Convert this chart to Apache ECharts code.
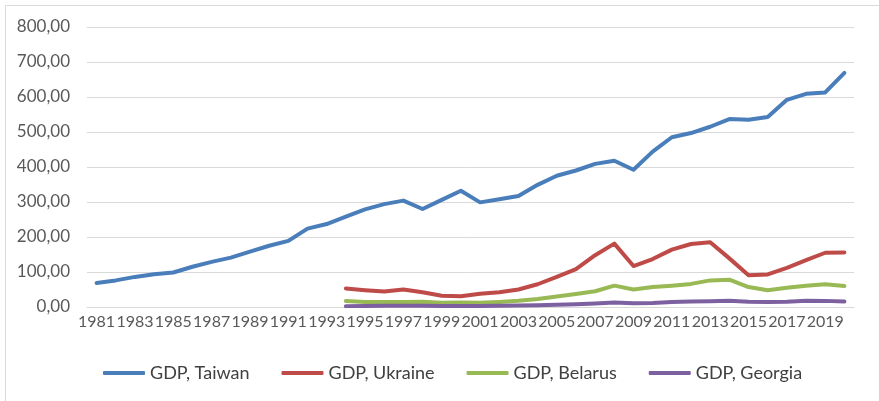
<!DOCTYPE html>
<html>
<head>
<meta charset="utf-8">
<script src="https://cdn.jsdelivr.net/npm/echarts@6/dist/echarts.min.js"></script>
<style>html,body{margin:0;padding:0;background:#fff;}#c{width:879px;height:401px;}</style>
</head>
<body>
<div id="c"></div>
<script>
const years = [];
for (let y = 1981; y <= 2020; y++) years.push(String(y));
const taiwan = [68.8, 76, 86, 93.7, 98.5, 115, 129, 141, 158, 175, 189, 224, 237, 258, 279, 294, 304, 280, 306, 332, 299, 308, 317, 349, 375, 390, 409, 418, 392, 444, 485, 497, 515, 537, 535, 543, 592, 609, 613, 669];
const ukraine = [null, null, null, null, null, null, null, null, null, null, null, null, null,
  53, 48, 44, 50, 42, 32, 31, 38, 42, 50, 65, 86, 108, 148, 181, 117, 137, 164, 180, 185, 139, 91, 93, 112, 134, 155, 156];
const belarus = [null, null, null, null, null, null, null, null, null, null, null, null, null,
  17, 14, 14.5, 14, 15, 12, 13, 12.4, 14.6, 17.8, 23, 30, 37, 45, 61, 50, 57, 61, 66, 76, 78, 57, 48, 55, 61, 65, 60];
const georgia = [null, null, null, null, null, null, null, null, null, null, null, null, null,
  2.5, 3, 3.4, 3.8, 3.6, 2.8, 3, 3.2, 3.4, 4, 5, 6.4, 7.8, 10.2, 12.8, 10.8, 11.6, 14.4, 15.8, 16.1, 17.6, 15, 14.4, 15.1, 17.6, 17.5, 16];
const seriesNames = ['GDP, Taiwan', 'GDP, Ukraine', 'GDP, Belarus', 'GDP, Georgia'];
const colors = ['#4A7EBB', '#BE4B48', '#98B954', '#7D60A0'];
const yTicks = { min: 0, max: 800, interval: 100 };

const chart = echarts.init(document.getElementById('c'), null, { renderer: 'canvas' });
const font = 'Lato, "Open Sans", sans-serif';
const mk = (name, data, color) => ({
  name, type: 'line', data, symbol: 'none', showSymbol: false,
  connectNulls: false,
  lineStyle: { width: 4, color, cap: 'round', join: 'round' },
  itemStyle: { color },
  emphasis: { disabled: true },
  animation: false
});
chart.setOption({
  animation: false,
  textStyle: { fontFamily: font },
  graphic: [{
    type: 'rect', shape: { x: 5.5, y: 5.5, width: 900, height: 500 },
    style: { fill: 'none', stroke: '#d9d9d9', lineWidth: 1 }, silent: true
  }],
  grid: { left: 87, right: 25, top: 27, bottom: 94 },
  legend: {
    data: seriesNames.map(n => ({ name: n, icon: 'roundRect' })),
    top: 359, left: 98,
    itemWidth: 42, itemHeight: 4, itemGap: 32,
    textStyle: { fontFamily: font, fontSize: 18, color: '#404040' }
  },
  xAxis: {
    type: 'category', data: years, boundaryGap: true,
    axisLine: { lineStyle: { color: '#d9d9d9', width: 1 } },
    axisTick: { show: false },
    axisLabel: { interval: 1, margin: 7, fontSize: 16, color: '#595959', fontFamily: font }
  },
  yAxis: {
    type: 'value', min: yTicks.min, max: yTicks.max, interval: yTicks.interval,
    axisLine: { show: false }, axisTick: { show: false },
    splitLine: { lineStyle: { color: '#d9d9d9', width: 1 } },
    axisLabel: {
      margin: 17, fontSize: 17, color: '#595959', fontFamily: font,
      formatter: v => v.toFixed(2).replace('.', ',')
    }
  },
  series: [
    mk(seriesNames[0], taiwan, colors[0]),
    mk(seriesNames[1], ukraine, colors[1]),
    mk(seriesNames[2], belarus, colors[2]),
    mk(seriesNames[3], georgia, colors[3])
  ]
});
</script>
</body>
</html>
